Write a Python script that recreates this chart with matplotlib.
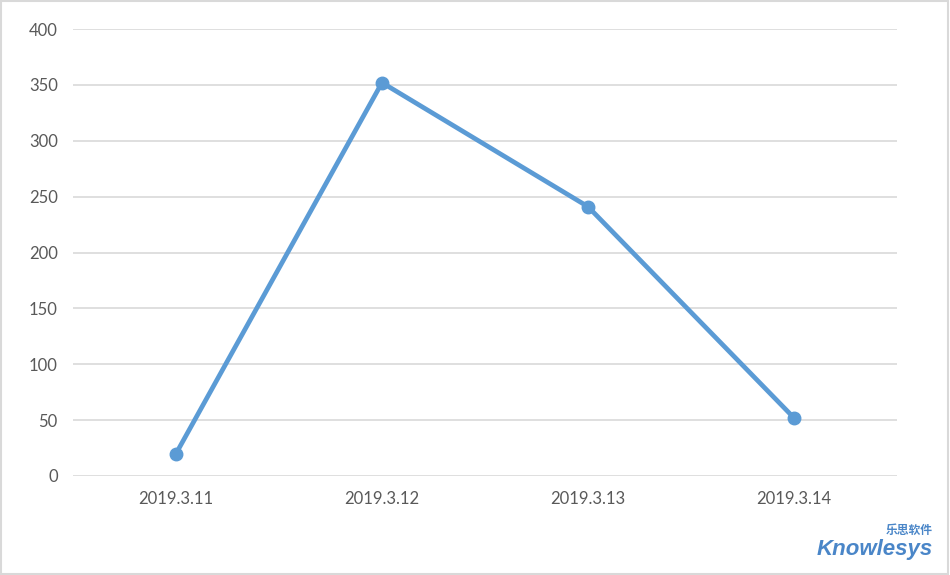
import matplotlib.pyplot as plt
from matplotlib.patches import Rectangle

# data
dates = ["2019.3.11", "2019.3.12", "2019.3.13", "2019.3.14"]
values = [20, 352, 241, 52]
y_ticks = [0, 50, 100, 150, 200, 250, 300, 350, 400]

fig = plt.figure(figsize=(9.5, 5.75), dpi=100)
ax = fig.add_axes([73 / 950, 1 - 476 / 575, 824 / 950, 447 / 575])

ax.plot(range(len(dates)), values, color="#5B9BD5", linewidth=3.4,
        marker="o", markersize=9, solid_capstyle="round", zorder=3)

ax.set_xlim(-0.5, len(dates) - 0.5)
ax.set_ylim(0, 400)
ax.set_yticks(y_ticks)
ax.set_xticks(range(len(dates)))
ax.set_xticklabels(dates)
ax.grid(axis="y", color="#D9D9D9", linewidth=1.2)
ax.set_axisbelow(True)
for s in ax.spines.values():
    s.set_visible(False)
ax.tick_params(length=0, labelsize=12, labelcolor="#595959")
ax.tick_params(axis="y", pad=11)
ax.tick_params(axis="x", pad=11)
for lab in ax.get_xticklabels() + ax.get_yticklabels():
    lab.set_family("Lato")

# outer border of the chart area
fig.patches.append(Rectangle((0.001, 0.001), 0.997, 0.997, transform=fig.transFigure,
                             fill=False, edgecolor="#D9D9D9", linewidth=1.5))

# watermark
fig.text(933 / 950, 1 - 539 / 575, "Knowlesys", color="#4A86C8", fontsize=16,
         fontweight="bold", style="italic", family="Liberation Sans", ha="right", va="top")
fig.text(933 / 950, 1 - 537 / 575, "乐思软件", color="#4A86C8", fontsize=8.5,
         fontweight="bold", family=["Noto Sans CJK SC", "DejaVu Sans"], ha="right", va="bottom")

fig.savefig("out.png", dpi=100)
